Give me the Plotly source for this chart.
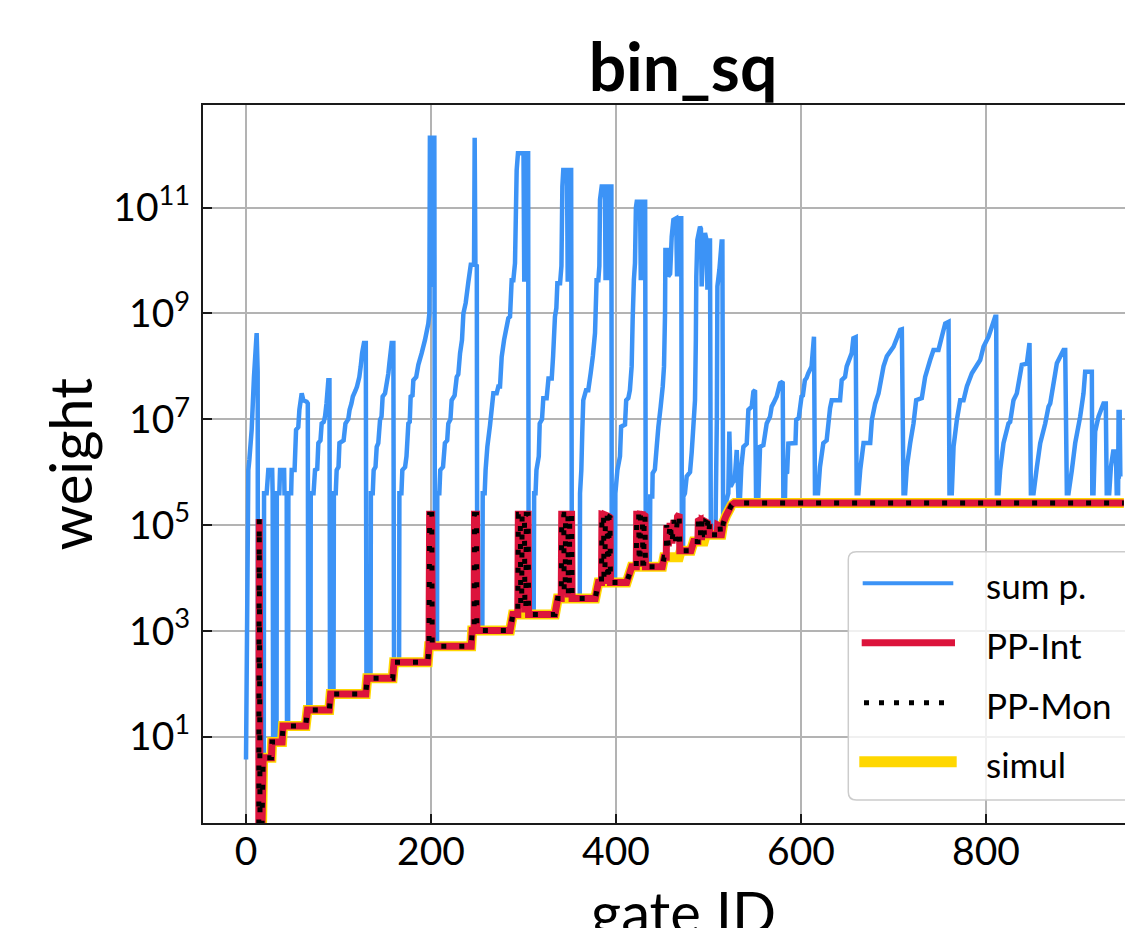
import plotly.graph_objects as go

# ---------------- data ----------------
# sum p. : (gate ID, log10 of weight) vertices of the polyline
sum_p_points = [
    (0, 0.57), (2.5, 6.04), (3.6, 6.23), (6.1, 6.80), (8.6, 7.80), (11.5, 8.63), (12.6, 7.90), (13.0, 0.60), (19.2, 0.60),
    (19.5, 5.60), (22.3, 5.60), (24.1, 6.04), (28.3, 6.04), (28.8, 5.60), (29.3, 0.90), (33.0, 0.90),
    (33.3, 5.60), (36.0, 5.60), (36.8, 6.04), (41.2, 6.04), (41.6, 5.60), (44.0, 5.60), (44.3, 1.20), (45.5, 1.20),
    (45.8, 5.60), (48.8, 5.60), (49.4, 6.04), (52.5, 6.04), (54.1, 6.80), (56.5, 6.85), (57.7, 7.18), (60.2, 7.49),
    (62.0, 7.36), (65.6, 7.33), (66.8, 7.30), (67.3, 1.50), (69.7, 1.50),
    (70.0, 5.60), (73.0, 5.60), (74.6, 6.04), (77.0, 6.06), (78.2, 6.55), (80.5, 6.60), (81.8, 6.92), (84.0, 6.95),
    (85.4, 7.05), (87.0, 7.30), (89.0, 7.74), (90.2, 7.74), (90.8, 1.82), (94.6, 1.82),
    (95.0, 5.60), (97.0, 5.60), (98.0, 6.04), (100.0, 6.10), (101.0, 6.55), (105.5, 6.60), (107.5, 6.92), (110.5, 7.00),
    (112.0, 7.18), (114.0, 7.30), (115.5, 7.43), (118.5, 7.55), (120.0, 7.62), (122.5, 7.80), (124.0, 8.00), (125.5, 8.25),
    (127.5, 8.44), (129.5, 8.44), (130.2, 2.11), (134.6, 2.11),
    (135.0, 5.60), (137.0, 5.60), (138.0, 6.04), (140.0, 6.10), (141.3, 6.48), (143.0, 6.55), (144.9, 6.99), (146.5, 7.05),
    (147.7, 7.43), (150.3, 7.49), (153.9, 7.87), (155.0, 8.06), (157.5, 8.44), (159.3, 8.44), (160.0, 2.41), (165.5, 2.41),
    (165.8, 5.60), (168.0, 5.60), (169.0, 6.04), (172.0, 6.10), (173.5, 6.30), (175.5, 6.92), (177.0, 6.95), (178.0, 7.43),
    (180.0, 7.45), (180.9, 7.74), (184.0, 7.80), (186.3, 8.03), (189.9, 8.25), (193.5, 8.50), (197.1, 8.81), (198.2, 9.00),
    (198.8, 12.32), (200.2, 12.32), (200.8, 9.50), (201.6, 12.32), (203.6, 12.32), (204.3, 2.71), (206.5, 2.71),
    (206.8, 5.60), (209.0, 5.60), (210.0, 6.04), (213.0, 6.10), (215.0, 6.55), (217.5, 6.60), (218.7, 6.92), (221.0, 7.00),
    (222.3, 7.36), (225.5, 7.45), (227.8, 7.80), (229.5, 7.85), (231.4, 8.25), (233.5, 8.50), (235.0, 9.00), (237.5, 9.20),
    (240.4, 9.60), (243.0, 9.92), (246.5, 9.92), (247.2, 12.32), (248.0, 9.92), (249.5, 9.90), (250.0, 3.01), (255.5, 3.01),
    (255.9, 5.60), (258.0, 5.60), (259.0, 6.04), (260.9, 6.48), (263.8, 6.89), (267.4, 7.49), (271.0, 7.49), (272.8, 7.62),
    (274.6, 7.62), (276.4, 8.18), (279.0, 8.50), (283.6, 8.91), (285.4, 8.94), (287.2, 9.63), (289.0, 9.63), (290.8, 9.95),
    (292.6, 11.71), (294.0, 12.03), (300.0, 12.03), (300.8, 9.60), (301.6, 12.03), (305.0, 12.03), (305.6, 3.31), (311.0, 3.31),
    (311.5, 5.60), (313.0, 5.60), (314.0, 6.04), (316.5, 6.30), (317.5, 6.92), (320.0, 7.00), (321.4, 7.40), (325.0, 7.40),
    (327.0, 7.77), (330.5, 7.77), (332.0, 8.20), (334.0, 8.94), (335.5, 9.10), (336.6, 9.57), (339.5, 9.57), (341.0, 9.90),
    (342.0, 11.40), (343.0, 11.71), (347.0, 11.71), (347.8, 9.60), (348.5, 11.71), (351.5, 11.71), (352.3, 3.61), (360.8, 3.61),
    (361.1, 5.60), (362.5, 6.04), (363.5, 6.74), (364.6, 7.36), (367.6, 7.55), (370.0, 7.55), (372.6, 7.87), (375.0, 8.20),
    (377.3, 8.63), (379.0, 9.63), (380.9, 9.63), (382.0, 9.90), (382.7, 11.15), (384.5, 11.40), (388.0, 11.40), (388.7, 9.63),
    (389.5, 11.40), (392.5, 11.40), (393.0, 9.63), (393.7, 11.40), (395.0, 11.40), (395.4, 3.91), (399.0, 3.91),
    (399.3, 5.60), (401.5, 6.04), (404.3, 6.30), (405.5, 6.86), (409.7, 6.90), (411.0, 7.36), (413.3, 7.40), (415.0, 7.55),
    (416.9, 8.00), (418.0, 8.88), (419.3, 9.63), (420.5, 9.95), (421.5, 11.00), (422.4, 11.11), (426.0, 11.11), (426.8, 9.63),
    (427.6, 11.11), (431.5, 11.11), (432.2, 4.21), (436.5, 4.21),
    (437.0, 5.54), (439.2, 5.54), (439.6, 5.98), (442.0, 6.05), (444.0, 6.48), (445.8, 6.86), (448.3, 7.24), (450.5, 7.62),
    (451.9, 8.00), (453.0, 9.00), (453.4, 10.20), (455.0, 10.20), (456.5, 9.70), (458.5, 9.75), (460.2, 10.45), (462.0, 10.77),
    (465.0, 10.80), (466.0, 9.70), (467.0, 10.80), (470.5, 10.80), (471.2, 4.52), (472.5, 4.52),
    (472.8, 5.54), (474.5, 5.60), (476.4, 5.92), (480.0, 6.00), (481.8, 6.37), (483.6, 6.86), (485.4, 7.36), (486.3, 8.50),
    (486.8, 9.70), (487.9, 10.39), (490.8, 10.64), (491.8, 10.60), (492.6, 9.51), (494.4, 10.30), (496.2, 10.52), (498.0, 10.38),
    (498.8, 9.45), (499.6, 10.38), (501.6, 10.38), (502.5, 4.82), (507.5, 4.82),
    (508.0, 5.60), (509.0, 7.00), (509.6, 9.51), (511.7, 9.82), (513.5, 10.20), (514.2, 10.36), (515.0, 10.36), (515.8, 5.00),
    (517.8, 5.10), (519.5, 5.47), (521.4, 5.60), (522.5, 6.77), (524.0, 5.73), (526.5, 5.82), (528.3, 5.85), (530.5, 6.42),
    (532.3, 5.54), (534.1, 5.54),
    (535.5, 6.10), (537.7, 6.48), (541.3, 6.54), (543.1, 7.18), (546.7, 7.24), (548.5, 7.52), (550.3, 7.55), (551.4, 5.54),
    (553.9, 5.54),
    (555.7, 6.48), (559.3, 6.51), (562.9, 6.92), (566.5, 7.05), (568.3, 7.24), (570.1, 7.30), (573.7, 7.43), (577.3, 7.68),
    (580.2, 7.71), (580.9, 5.54), (582.7, 5.54),
    (583.2, 5.98), (585.0, 6.00), (586.3, 6.54), (594.0, 6.55), (594.8, 6.99), (597.5, 7.02), (600.6, 7.43), (602.0, 7.45),
    (604.2, 7.74), (606.0, 7.78), (607.8, 7.87), (611.4, 8.00), (614.0, 8.56), (615.1, 5.60), (618.4, 5.60),
    (620.5, 6.10), (624.1, 6.55), (627.7, 6.60), (631.4, 7.21), (633.2, 7.36), (642.2, 7.36), (644.0, 7.74), (647.6, 7.80),
    (649.4, 8.00), (654.8, 8.25), (656.6, 8.53), (659.1, 8.55), (660.2, 5.60), (662.0, 5.60),
    (664.0, 6.04), (667.6, 6.55), (674.8, 6.55), (676.6, 6.99), (680.2, 7.30), (683.8, 7.49), (689.2, 8.00), (692.8, 8.19),
    (700.0, 8.37), (707.2, 8.69), (709.0, 8.70), (710.8, 5.60), (712.6, 5.60),
    (714.4, 6.10), (718.0, 6.55), (721.6, 6.92), (724.5, 7.36), (730.6, 7.40), (734.2, 7.80), (739.6, 8.12), (743.2, 8.31),
    (748.6, 8.31), (752.2, 8.56), (755.9, 8.81), (759.5, 8.84), (760.5, 5.60), (763.0, 5.60),
    (764.9, 6.48), (768.5, 6.99), (772.1, 7.36), (775.7, 7.36), (779.3, 7.62), (784.7, 7.87), (793.7, 8.12), (797.3, 8.37),
    (802.7, 8.56), (806.3, 8.75), (809.9, 8.94), (811.0, 8.94), (811.7, 5.60), (813.5, 5.60),
    (815.3, 6.04), (818.9, 6.55), (824.3, 6.92), (826.1, 6.95), (829.7, 7.36), (833.3, 7.49), (838.7, 8.03), (844.1, 8.05),
    (847.0, 8.44), (848.5, 5.60), (851.4, 5.60),
    (855.0, 6.10), (858.6, 6.55), (864.0, 6.92), (867.6, 7.24), (869.4, 7.30), (874.8, 7.87), (876.6, 8.06), (883.8, 8.31),
    (885.6, 8.31), (887.4, 5.60), (889.2, 5.60),
    (892.8, 6.04), (896.4, 6.55), (901.8, 7.05), (905.4, 7.49), (907.2, 7.90), (914.4, 7.90), (914.9, 5.60), (916.2, 5.60),
    (918.0, 6.77), (921.6, 7.05), (927.0, 7.30), (929.5, 7.30), (930.5, 5.60), (933.2, 5.60),
    (935.0, 6.10), (937.5, 6.39), (940.4, 6.39), (941.3, 5.60), (942.8, 5.60), (943.3, 7.14), (944.5, 7.14), (945.2, 5.92),
    (946.0, 5.92),
]

# PP-Int / PP-Mon : (gate ID, weight)
pp_points = [
    (13.8, 0.1), (14.3, 131072), (15.2, 0.1), (17.0, 0.1), (18.5, 4), (27.5, 4), (28.2, 8), (39.0, 8), (40.0, 16),
    (64.5, 16), (66.5, 32), (90.0, 32), (91.5, 64), (129.5, 64), (131.0, 128), (158.5, 128), (160.0, 256),
    (196.5, 256), (197.8, 512), (198.5, 160000), (200.8, 160000), (201.3, 512), (243.5, 512), (244.5, 1024),
    (246.6, 1024), (247.0, 160000), (249.2, 160000), (249.6, 1024), (285.5, 1024), (288.5, 2048),
    (293.8, 2048), (294.4, 160000), (296.5, 160000), (297.0, 3200), (298.0, 3200), (298.5, 160000), (301.0, 160000),
    (301.5, 2600), (302.5, 2600), (303.0, 160000), (305.0, 160000), (305.5, 2048), (334.0, 2048), (337.0, 4096),
    (340.8, 4096), (341.3, 160000), (343.5, 160000), (344.0, 5500), (345.0, 5500), (345.5, 160000), (348.0, 160000),
    (348.5, 5000), (349.5, 5000), (350.0, 160000), (352.0, 160000), (352.5, 4096), (377.5, 4096), (381.0, 8192),
    (384.3, 8192), (384.8, 160000), (386.5, 158000), (387.0, 10000), (388.0, 10000), (388.5, 155000), (390.5, 150000),
    (391.0, 9000), (392.0, 9000), (392.5, 145000), (393.5, 140000), (394.0, 8192), (411.5, 8192), (417.0, 16384),
    (421.9, 16384), (422.4, 160000), (424.5, 160000), (425.0, 20000), (426.0, 20000), (426.5, 160000), (428.5, 158000),
    (429.0, 19000), (430.0, 19000), (430.5, 155000), (431.3, 150000), (431.8, 16384), (450.0, 16384), (452.0, 24576),
    (454.3, 24576), (454.8, 100000), (456.5, 40000), (458.5, 110000), (460.5, 45000), (462.5, 125000), (464.5, 50000),
    (466.5, 145000), (468.3, 160000), (469.0, 32768), (481.0, 32768), (484.0, 49152),
    (488.5, 49152), (489.0, 120000), (491.0, 125000), (491.5, 60000), (492.5, 60000), (493.0, 125000), (495.0, 120000),
    (495.5, 65536), (496.5, 65536), (497.0, 115000), (499.0, 110000), (499.5, 70000), (500.5, 70000), (501.0, 105000),
    (501.5, 65536), (509.5, 65536), (510.0, 100000), (512.5, 95000), (513.0, 65536), (514.0, 65536),
    (516.0, 110000), (519.0, 150000), (522.0, 190000), (525.0, 240000), (528.0, 262144), (949.0, 262144),
]

# simul : (gate ID, weight)
simul_points = [
    (17.0, 0.1), (18.5, 4), (27.5, 4), (28.2, 8), (39.0, 8), (40.0, 16), (64.5, 16), (66.5, 32), (90.0, 32),
    (91.5, 64), (129.5, 64), (131.0, 128), (158.5, 128), (160.0, 256), (196.5, 256), (197.8, 512), (243.5, 512),
    (244.5, 1024), (285.5, 1024), (288.5, 2048), (334.0, 2048), (337.0, 4096), (377.5, 4096), (381.0, 8192),
    (411.5, 8192), (417.0, 16384), (450.0, 16384), (452.0, 24576), (468.0, 24576), (470.0, 32768), (481.0, 32768),
    (484.0, 49152), (495.0, 49152), (497.0, 65536), (514.0, 65536), (516.0, 110000), (519.0, 150000),
    (522.0, 190000), (525.0, 240000), (528.0, 262144), (949.0, 262144),
]

x_tick_vals = [0, 200, 400, 600, 800]
y_tick_exps = [1, 3, 5, 7, 9, 11]
series_names = ["sum p.", "PP-Int", "PP-Mon", "simul"]
chart_title = "bin_sq"
x_title = "gate ID"
y_title = "weight"

# ---------------- derived columns ----------------
sum_p_gate = [p[0] for p in sum_p_points]
sum_p_weight = [10 ** p[1] for p in sum_p_points]
pp_gate = [p[0] for p in pp_points]
pp_weight = [p[1] for p in pp_points]
simul_gate = [p[0] for p in simul_points]
simul_weight = [p[1] for p in simul_points]

# ---------------- style ----------------
FONT = "Lato"
BLUE = "#3c93f6"
RED = "#dc143c"
GOLD = "#ffd700"
GRID = "#b3b3b3"
AXIS = "#1a1a1a"

BODY = 8  # default page margin around the figure
W, H = 1133 - BODY, 928 - BODY
ML, MR, MT, MB = 203 - BODY, 0, 105 - BODY, 105
PW, PH = W - ML - MR, H - MT - MB


def px_x(p):
    """page pixel x -> paper x"""
    return (p - BODY - ML) / PW


def px_y(p):
    """page pixel y -> paper y"""
    return (H - MB - (p - BODY)) / PH


fig = go.Figure()
fig.add_trace(go.Scatter(x=sum_p_gate, y=sum_p_weight, mode="lines", name=series_names[0],
                         line=dict(color=BLUE, width=4.5, simplify=False), showlegend=False))
fig.add_trace(go.Scatter(x=simul_gate, y=simul_weight, mode="lines", name=series_names[3],
                         line=dict(color=GOLD, width=10, simplify=False), showlegend=False))
fig.add_trace(go.Scatter(x=pp_gate, y=pp_weight, mode="lines", name=series_names[1],
                         line=dict(color=RED, width=7, simplify=False), showlegend=False))
fig.add_trace(go.Scatter(x=pp_gate, y=pp_weight, mode="lines", name=series_names[2],
                         line=dict(color="black", width=5, dash="5px,13px", simplify=False), showlegend=False))

axis_common = dict(
    showgrid=True, gridcolor=GRID, gridwidth=1.8,
    showline=True, linecolor=AXIS, linewidth=2,
    ticks="inside", ticklen=9, tickwidth=2, tickcolor=AXIS,
    tickfont=dict(family=FONT, size=39, color="black"),
    zeroline=False, automargin=False,
)

fig.update_layout(
    width=W, height=H,
    margin=dict(l=ML, r=MR, t=MT, b=MB, pad=0, autoexpand=False),
    paper_bgcolor="white", plot_bgcolor="white",
    showlegend=False,
    title=dict(text=chart_title, x=px_x(683), xref="paper", xanchor="center",
               y=1 - (68 - BODY) / H, yref="container", yanchor="middle",
               font=dict(family=FONT, size=66, color="black", weight="bold")),
    xaxis=dict(
        range=[-46.5, 958.9], tickvals=x_tick_vals, mirror=True,
        ticklabelstandoff=-7,
        **axis_common,
    ),
    yaxis=dict(
        type="log", range=[-0.63, 12.94],
        tickvals=[10 ** e for e in y_tick_exps],
        ticktext=[f"10<sup>{e}</sup>" for e in y_tick_exps],
        ticklabelstandoff=3,
        **axis_common,
    ),
)

# axis titles placed as in the reference (x title sits partly below the page edge)
fig.add_annotation(text=x_title, xref="paper", yref="paper", x=px_x(683), y=px_y(912),
                   xanchor="center", yanchor="middle", showarrow=False,
                   font=dict(family=FONT, size=58, color="black"))
fig.add_annotation(text=y_title, xref="paper", yref="paper", x=px_x(68.5), y=px_y(464),
                   xanchor="center", yanchor="middle", showarrow=False, textangle=-90,
                   font=dict(family=FONT, size=58, color="black"))

# ---------------- legend (drawn to match the reference's long line samples) ----------------
bx0, bx1 = px_x(848.3), px_x(1150)
by_top, by_bot = px_y(551.7), px_y(800)
rx, ry = 8 / PW, 8 / PH
box_path = (f"M {bx0 + rx},{by_top} L {bx1 - rx},{by_top} Q {bx1},{by_top} {bx1},{by_top - ry} "
            f"L {bx1},{by_bot + ry} Q {bx1},{by_bot} {bx1 - rx},{by_bot} L {bx0 + rx},{by_bot} "
            f"Q {bx0},{by_bot} {bx0},{by_bot + ry} L {bx0},{by_top - ry} Q {bx0},{by_top} {bx0 + rx},{by_top} Z")
fig.add_shape(type="path", path=box_path, xref="paper", yref="paper",
              fillcolor="rgba(255,255,255,0.8)", line=dict(color="#cccccc", width=1.5), layer="above")

legend_rows = [
    (series_names[0], 583.3, dict(color=BLUE, width=4), 862.7, 953.3),
    (series_names[1], 642.7, dict(color=RED, width=7), 861.7, 955.0),
    (series_names[2], 702.7, dict(color="black", width=5, dash="5px,10px"), 864.0, 947.0),
    (series_names[3], 761.7, dict(color=GOLD, width=11), 859.3, 956.7),
]
for label, row_y, line_style, lx0, lx1 in legend_rows:
    fig.add_shape(type="line", xref="paper", yref="paper",
                  x0=px_x(lx0), x1=px_x(lx1), y0=px_y(row_y), y1=px_y(row_y),
                  line=line_style, layer="above")
    fig.add_annotation(text=label, xref="paper", yref="paper", x=px_x(984), y=px_y(row_y + 2),
                       xanchor="left", yanchor="middle", showarrow=False,
                       font=dict(family=FONT, size=35, color="black"))

fig.write_html("out.html")
